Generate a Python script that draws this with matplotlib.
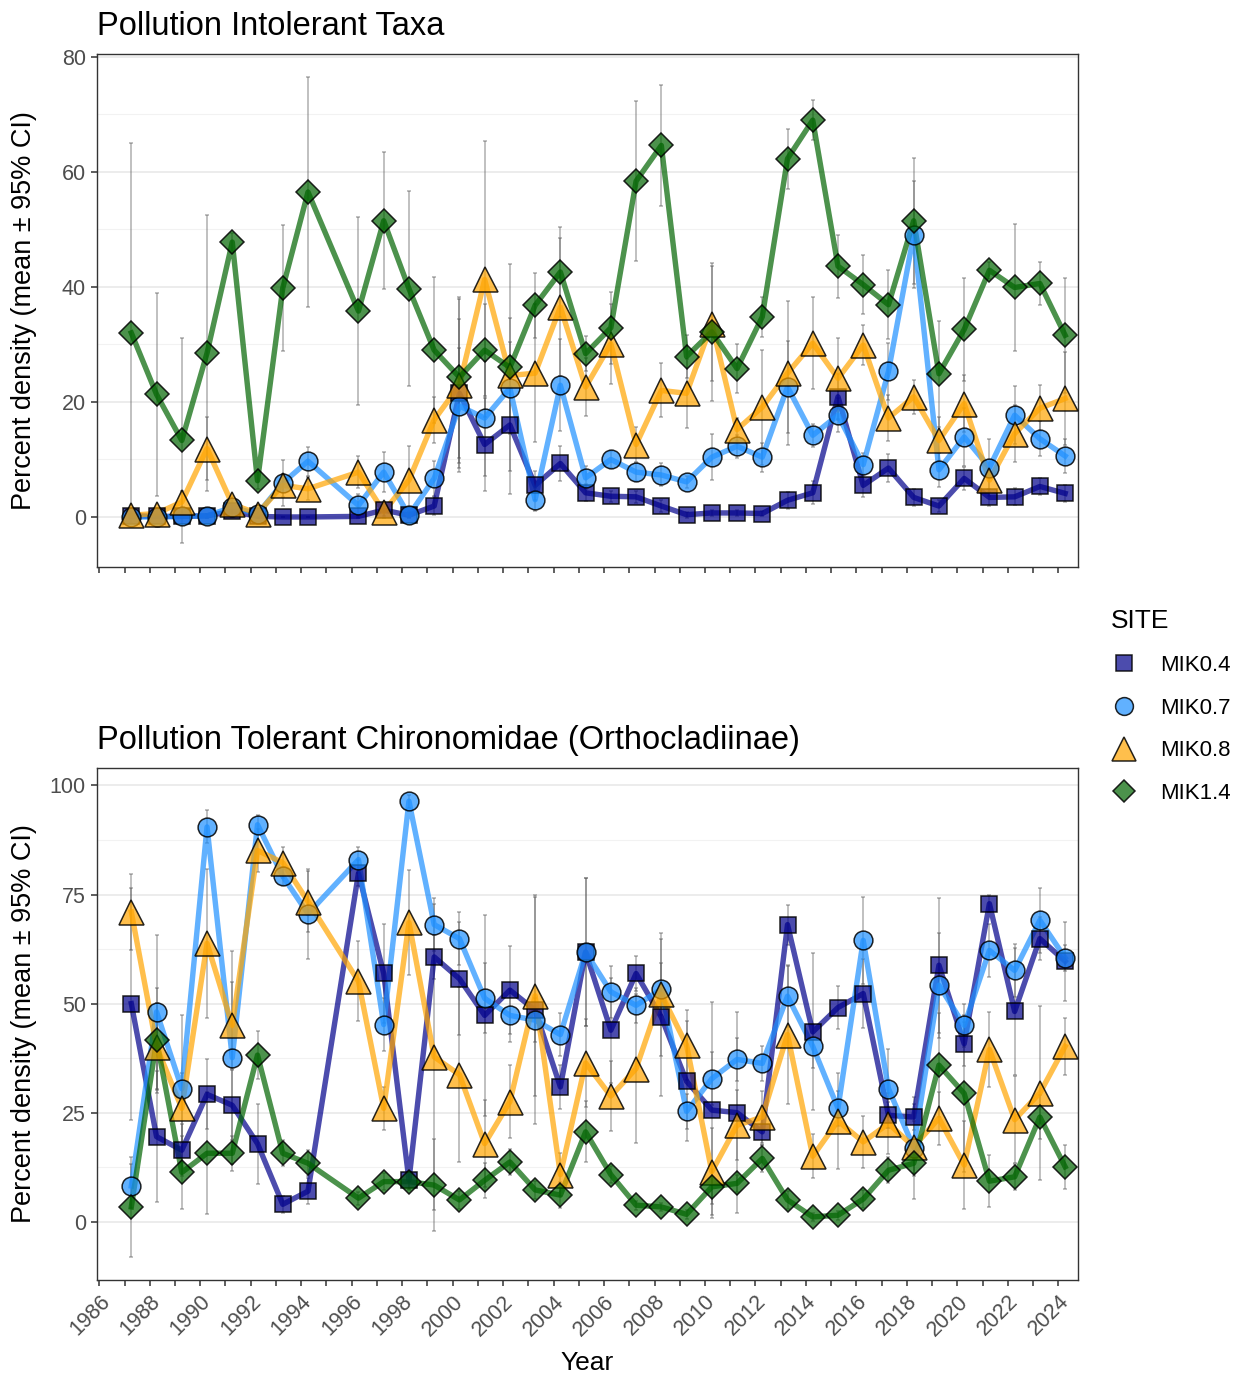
import matplotlib
matplotlib.use("Agg")
import matplotlib.pyplot as plt
from matplotlib.lines import Line2D
import numpy as np

plt.rcParams['font.family'] = ['Liberation Sans', 'DejaVu Sans']

# Sampling years (no survey in 1995)
years = [1987, 1988, 1989, 1990, 1991, 1992, 1993, 1994, 1996, 1997, 1998, 1999,
         2000, 2001, 2002, 2003, 2004, 2005, 2006, 2007, 2008, 2009, 2010, 2011,
         2012, 2013, 2014, 2015, 2016, 2017, 2018, 2019, 2020, 2021, 2022, 2023, 2024]
sites = ["MIK0.4", "MIK0.7", "MIK0.8", "MIK1.4"]

# Pollution intolerant taxa: mean percent density and 95% CI half-width
intol_mik04 = [0.2, 0.1, 0.1, 0.2, 1.0, 0.1, 0.0, 0.0, 0.1, 1.2, 0.3, 1.9,
               21.5, 12.6, 16.0, 5.5, 9.3, 4.2, 3.6, 3.5, 1.9, 0.4, 0.7, 0.7,
               0.6, 2.9, 4.2, 20.9, 5.5, 8.5, 3.4, 1.9, 6.7, 3.4, 3.5, 5.3, 4.1]
intol_mik04_ci = [0.3, 0.2, 0.2, 0.3, 1.0, 0.2, 0.0, 0.0, 0.2, 1.0, 0.5, 1.5,
                  13, 8, 12, 2.5, 3, 1.5, 1, 1, 1, 0.5, 0.5, 0.5,
                  0.5, 1.5, 2, 4, 2, 2.5, 1.5, 1, 2, 1.5, 1.5, 1.5, 1.5]
intol_mik07 = [0.0, 0.0, 0.1, 0.2, 1.7, 0.5, 5.9, 9.7, 2.0, 7.8, 0.3, 6.7,
               19.3, 17.2, 22.4, 3.0, 22.9, 6.8, 10.0, 7.8, 7.3, 6.1, 10.4, 12.3,
               10.4, 22.6, 14.2, 17.7, 9.1, 25.3, 49.1, 8.2, 13.9, 8.6, 17.7, 13.6, 10.6]
intol_mik07_ci = [0.1, 0.1, 0.3, 0.3, 1.5, 0.5, 4, 2.5, 2, 3.5, 0.5, 3,
                  10, 10, 8, 2, 8, 2, 1.5, 1.5, 2, 1, 4, 2,
                  2.5, 8, 2, 3, 2, 5, 9.3, 3, 5, 5, 5, 3, 3]
intol_mik08 = [0.3, 0.6, 2.6, 11.9, 2.2, 0.6, 5.5, 4.9, 7.8, 0.9, 6.4, 16.9,
               22.9, 41.3, 24.6, 25.0, 36.5, 22.6, 30.1, 12.6, 22.0, 21.5, 33.6, 15.2,
               19.1, 25.0, 30.2, 24.1, 29.9, 17.2, 20.9, 13.3, 19.7, 6.4, 14.5, 18.9, 20.6]
intol_mik08_ci = [0.5, 0.8, 2, 5.5, 1.5, 0.8, 2, 2, 2.8, 1, 6, 4,
                  15, 24, 10, 12, 12, 5, 7, 3, 4.7, 6, 10, 2,
                  10, 12.5, 8, 7, 3.5, 4, 3, 4, 5, 2, 5, 4, 8]
intol_mik14 = [32.0, 21.3, 13.3, 28.5, 47.8, 6.3, 39.8, 56.5, 35.8, 51.5, 39.7, 29.0,
               24.3, 29.0, 26.0, 36.8, 42.6, 28.4, 32.9, 58.4, 64.6, 27.9, 32.2, 25.8,
               34.8, 62.3, 69.0, 43.6, 40.4, 36.9, 51.5, 24.9, 32.6, 42.9, 39.9, 40.6, 31.6]
intol_mik14_ci = [33, 17.7, 17.9, 24, 1.5, 1.5, 11, 20, 16.4, 11.9, 17, 12.7,
                  14, 8, 18, 5.6, 7.8, 3, 6.3, 13.9, 10.5, 3.7, 12, 4.2,
                  3.5, 5.2, 3.5, 5.5, 5.1, 6, 11, 9.2, 9, 1.5, 11.1, 3.7, 10]

# Pollution tolerant Chironomidae (Orthocladiinae)
tol_mik04 = [50.0, 19.5, 16.4, 29.2, 26.7, 17.9, 4.0, 7.0, 79.9, 56.9, 9.5, 60.7,
             55.7, 47.3, 53.1, 48.5, 30.9, 61.8, 43.9, 56.9, 46.9, 32.2, 25.6, 25.0,
             20.6, 68.1, 43.5, 49.1, 52.3, 24.4, 24.0, 58.8, 40.8, 72.9, 48.2, 64.9, 59.7]
tol_mik04_ci = [26.6, 15, 6, 8, 8, 9.2, 2, 3, 3, 11.4, 2, 5,
                13, 23, 10, 26, 5, 17, 12, 4, 18, 13.7, 24.8, 23,
                3, 4.6, 18, 5, 8, 3, 3, 15.5, 5, 2, 14.5, 5, 9]
tol_mik07 = [8.2, 48.1, 30.5, 90.5, 37.6, 91.0, 79.2, 70.6, 83.0, 45.2, 96.4, 68.1,
             64.9, 51.2, 47.3, 46.2, 42.9, 61.8, 52.7, 49.6, 53.3, 25.3, 32.8, 37.2,
             36.3, 51.7, 40.2, 26.0, 64.5, 30.5, 17.0, 54.2, 45.0, 62.2, 57.6, 69.1, 60.5]
tol_mik07_ci = [5, 17.7, 17, 3.8, 24.4, 2.2, 2, 10.3, 3, 6, 1.5, 6,
                6, 8, 6, 5, 5, 17, 6, 4, 6, 4, 6, 5,
                4, 7, 5, 4, 10, 9, 11.7, 12, 5, 6, 6, 7.4, 3]
tol_mik08 = [71.0, 40.1, 26.0, 63.8, 45.0, 85.1, 82.3, 73.4, 55.1, 26.0, 68.6, 37.8,
             33.7, 17.9, 27.5, 51.8, 10.8, 36.4, 28.8, 35.1, 52.1, 40.5, 11.5, 22.1,
             24.0, 42.9, 15.0, 23.1, 18.3, 22.5, 17.2, 23.7, 13.0, 39.5, 23.4, 29.5, 40.2]
tol_mik08_ci = [8.8, 10, 8, 17, 10, 5, 3.6, 7, 9.2, 5, 12, 35,
                20, 10, 8.4, 23, 5, 10, 8, 17, 14, 8, 10, 8,
                6, 16, 5, 11, 6, 7, 6, 6, 10, 8.6, 10, 20, 6.6]
tol_mik14 = [3.4, 41.6, 11.3, 15.7, 15.7, 38.2, 15.7, 13.4, 5.4, 9.2, 9.2, 8.4,
             5.0, 9.5, 13.7, 7.3, 6.1, 20.6, 10.8, 3.8, 3.4, 1.7, 8.0, 8.8,
             14.5, 5.0, 1.1, 1.5, 5.2, 11.8, 13.4, 35.9, 29.4, 9.3, 10.3, 24.0, 12.6]
tol_mik14_ci = [11.4, 12, 8.4, 14, 4, 5.5, 3, 3, 1.5, 2, 2, 10.5,
                2, 4, 3, 2, 3, 7, 2, 1, 1, 1, 4, 2,
                3, 2, 1, 1, 2, 3, 3, 12, 18, 6, 3, 5, 5]

panels = [
    ("Pollution Intolerant Taxa",
     [intol_mik04, intol_mik07, intol_mik08, intol_mik14],
     [intol_mik04_ci, intol_mik07_ci, intol_mik08_ci, intol_mik14_ci],
     [0, 20, 40, 60, 80], (-8.7, 80.5)),
    ("Pollution Tolerant Chironomidae (Orthocladiinae)",
     [tol_mik04, tol_mik07, tol_mik08, tol_mik14],
     [tol_mik04_ci, tol_mik07_ci, tol_mik08_ci, tol_mik14_ci],
     [0, 25, 50, 75, 100], (-13.35, 104.0)),
]

colors = {"MIK0.4": "#00008B", "MIK0.7": "#1E90FF", "MIK0.8": "#FFA500", "MIK1.4": "#006400"}
markers = {"MIK0.4": "s", "MIK0.7": "o", "MIK0.8": "^", "MIK1.4": "D"}
msizes = {"MIK0.4": 12, "MIK0.7": 13.5, "MIK0.8": 18, "MIK1.4": 11.8}
alpha = 0.7
sample_offset = 0.27  # samples are collected early in the year

W, H = 1244, 1373
fig = plt.figure(figsize=(W / 100, H / 100), dpi=100)
ax_boxes = [(97, 54, 1078, 567), (97, 768, 1078, 1280)]

x = np.array(years) + sample_offset
xticks = list(range(1986, 2025))

for i, ((title, means, cis, yticks, ylim), box) in enumerate(zip(panels, ax_boxes)):
    l, t, r, b = box
    ax = fig.add_axes([l / W, 1 - b / H, (r - l) / W, (b - t) / H])
    for site, m, c in zip(sites, means, cis):
        ax.errorbar(x, np.array(m), yerr=np.array(c), fmt='none',
                    ecolor=(0.3, 0.3, 0.3, 0.45),
                    elinewidth=1.1, capsize=1.2, capthick=1.1, zorder=2)
    for site, m in zip(sites, means):
        ax.plot(x, m, color=colors[site], alpha=alpha, lw=3.9, zorder=3,
                solid_joinstyle='round')
    for site, m in zip(sites, means):
        ax.plot(x, m, linestyle='none', marker=markers[site], ms=msizes[site],
                markerfacecolor=matplotlib.colors.to_rgba(colors[site], alpha),
                markeredgecolor=(0, 0, 0, 0.85), markeredgewidth=1.1, zorder=4)

    ax.set_xlim(1985.91, 2024.78)
    ax.set_ylim(*ylim)
    ax.set_yticks(yticks)
    ax.set_yticklabels([str(v) for v in yticks])
    minor = [(a + b2) / 2 for a, b2 in zip(yticks[:-1], yticks[1:])]
    ax.set_yticks(minor, minor=True)
    ax.yaxis.grid(True, which='major', color='#EBEBEB', lw=1.3, zorder=0)
    ax.yaxis.grid(True, which='minor', color='#F2F2F2', lw=0.8, zorder=0)
    ax.tick_params(axis='y', which='minor', length=0)
    ax.set_axisbelow(True)
    ax.set_xticks(xticks)
    if i == 1:
        ax.set_xticklabels([str(v) if v % 2 == 0 else '' for v in xticks],
                           rotation=45, ha='right', rotation_mode='anchor')
        ax.set_xlabel("Year", fontsize=19, labelpad=8)
    else:
        ax.set_xticklabels([])
    ax.tick_params(axis='both', which='major', labelsize=15.5, labelcolor='#4D4D4D',
                   color='#333333', length=4.5, width=1.1, direction='out')
    for s in ax.spines.values():
        s.set_color('#333333')
        s.set_linewidth(1.0)
    ax.set_ylabel("Percent density (mean \u00b1 95% CI)", fontsize=19.5)
    ax.yaxis.set_label_coords(-0.061, 0.5)
    ax.set_title(title, loc='left', fontsize=23.5, pad=14)

handles = [Line2D([], [], linestyle='none', marker=markers[s], ms=msizes[s] * 0.95,
                  markerfacecolor=matplotlib.colors.to_rgba(colors[s], alpha),
                  markeredgecolor=(0, 0, 0, 0.85), markeredgewidth=1.1)
           for s in sites]
leg = fig.legend(handles, sites, title="SITE", loc='upper left',
                 bbox_to_anchor=(1091 / W, 1 - 589 / H), frameon=False,
                 fontsize=16, title_fontsize=19, labelspacing=0.98,
                 handletextpad=1.0, handlelength=1.2, alignment='left')

fig.savefig("out.png", dpi=100)
